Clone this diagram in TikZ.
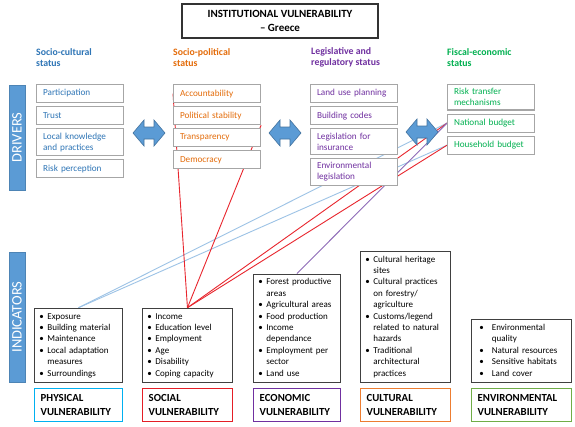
\documentclass[tikz,border=0pt]{standalone}
\usepackage{fontspec}
\setmainfont{Carlito}
\usetikzlibrary{positioning,backgrounds}

\definecolor{scblue}{HTML}{2E75B6}
\definecolor{sporange}{HTML}{E46C0A}
\definecolor{lgpurple}{HTML}{7030A0}
\definecolor{fegreen}{HTML}{00B050}
\definecolor{boxgray}{HTML}{A6A6A6}
\definecolor{barblue}{HTML}{5B9BD5}
\definecolor{lineblue}{HTML}{9DC3E6}
\definecolor{linered}{HTML}{E8262E}
\definecolor{linepurple}{HTML}{8E6BB8}
\definecolor{physcyan}{HTML}{00B0F0}
\definecolor{socred}{HTML}{E41E26}
\definecolor{culorange}{HTML}{ED7D31}
\definecolor{envgreen}{HTML}{70AD47}

\newcommand\bul{\textbullet}

\begin{document}
\begin{tikzpicture}[
  x=1pt, y=-1pt,
  node distance = 3pt,
  drv/.style  = {draw=boxgray, line width=1.1pt, fill=white, text width=74pt,
                 inner xsep=6.5pt, inner ysep=4pt, minimum height=18pt,
                 align=left, font=\fontsize{9.2}{11}\selectfont},
  hdr/.style  = {anchor=west, align=left, inner sep=0pt,
                 font=\fontsize{9.8}{11}\selectfont\bfseries},
  ind/.style  = {draw=black!75, line width=0.9pt, fill=white, anchor=south west,
                 inner xsep=5pt, inner ysep=3pt, align=left,
                 font=\fontsize{9}{11.4}\selectfont},
  vul/.style  = {draw, line width=1.4pt, fill=white, anchor=north west,
                 minimum height=33pt, inner xsep=6pt, align=left,
                 font=\fontsize{10.8}{13.5}\selectfont\bfseries},
  bar/.style  = {fill=barblue, draw=barblue!85!black, rotate=90, minimum height=16pt,
                 inner sep=0pt, text=white, font=\fontsize{14.5}{14.5}\selectfont},
  link/.style = {line width=0.9pt},
  lrarrow/.pic = {\path[fill=barblue, draw=barblue!75!black, line width=0.6pt]
                   (-16,0) -- (-5,-13) -- (-5,-6) -- (5,-6) -- (5,-13) -- (16,0)
                   -- (5,13) -- (5,6) -- (-5,6) -- (-5,13) -- cycle;}
]
  \useasboundingbox (0,0) rectangle (575,426);

  % title
  \node[draw=black!80, line width=1.3pt, minimum width=196pt, minimum height=34pt,
        align=center, font=\fontsize{11}{14}\selectfont\bfseries]
        (title) at (280,21) {INSTITUTIONAL VULNERABILITY\\– Greece};

  % side bars
  \node[bar, minimum width=105pt] (drivers) at (17,137.5) {DRIVERS};
  \node[bar, minimum width=130pt] (indic)   at (17,317)   {INDICATORS};

  % column headers
  \node[hdr, text=scblue]   (hsc) at (36,57.5)  {Socio-cultural\\status};
  \node[hdr, text=sporange] (hsp) at (173,57.5) {Socio-political\\status};
  \node[hdr, text=lgpurple] (hlg) at (311,57.5) {Legislative and\\regulatory status};
  \node[hdr, text=fegreen]  (hfe) at (447,57.5) {Fiscal-economic\\status};

  % drivers
  \node[drv, text=scblue, anchor=north west] (part) at (36,84) {Participation};
  \node[drv, text=scblue, below=of part]  (trust) {Trust};
  \node[drv, text=scblue, below=of trust] (lkp)   {Local knowledge\\and practices};
  \node[drv, text=scblue, below=of lkp]   (risk)  {Risk perception};

  \node[drv, text=sporange, anchor=north west] (acc) at (173,84) {Accountability};
  \node[drv, text=sporange, below=of acc] (pol)  {Political stability};
  \node[drv, text=sporange, below=of pol] (tra)  {Transparency};
  \node[drv, text=sporange, below=of tra] (dem)  {Democracy};

  \node[drv, text=lgpurple, anchor=north west] (lup) at (310,84) {Land use planning};
  \node[drv, text=lgpurple, below=of lup] (bcod) {Building codes};
  \node[drv, text=lgpurple, below=of bcod] (lins) {Legislation for\\insurance};
  \node[drv, text=lgpurple, below=of lins] (envl) {Environmental\\legislation};

  \node[drv, text=fegreen, anchor=north west] (rtm) at (447,84) {Risk transfer\\mechanisms};
  \node[drv, text=fegreen, below=of rtm]  (natb) {National budget};
  \node[drv, text=fegreen, below=of natb] (hhb)  {Household budget};

  % indicators
  \node[ind, text width=78pt] (phys) at (34,383) {%
    \begin{tabular}{@{}l@{\hspace{3.5pt}}l@{}}
      \bul & Exposure\\ \bul & Building material\\ \bul & Maintenance\\
      \bul & Local adaptation\\ & measures\\ \bul & Surroundings
    \end{tabular}};
  \node[ind, text width=80pt] (soc) at (142,383) {%
    \begin{tabular}{@{}l@{\hspace{3.5pt}}l@{}}
      \bul & Income\\ \bul & Education level\\ \bul & Employment\\
      \bul & Age\\ \bul & Disability\\ \bul & Coping capacity
    \end{tabular}};
  \node[ind, text width=77pt] (eco) at (253,383) {%
    \begin{tabular}{@{}l@{\hspace{3.5pt}}l@{}}
      \bul & Forest productive\\ & areas\\ \bul & Agricultural areas\\
      \bul & Food production\\ \bul & Income\\ & dependance\\
      \bul & Employment per\\ & sector\\ \bul & Land use
    \end{tabular}};
  \node[ind, text width=80pt] (cul) at (360,383) {%
    \begin{tabular}{@{}l@{\hspace{3.5pt}}l@{}}
      \bul & Cultural heritage\\ & sites\\ \bul & Cultural practices\\
      & on forestry/\\ & agriculture\\ \bul & Customs/legend\\
      & related to natural\\ & hazards\\ \bul & Traditional\\
      & architectural\\ & practices
    \end{tabular}};
  \node[ind, text width=84pt, inner xsep=8pt] (envi) at (471,383) {%
    \begin{tabular}{@{}l@{\hspace{8pt}}l@{}}
      \bul & Environmental\\ & quality\\ \bul & Natural resources\\
      \bul & Sensitive habitats\\ \bul & Land cover
    \end{tabular}};

  % vulnerability labels
  \node[vul, draw=physcyan,   text width=76pt] (vphys) at (34,388)  {PHYSICAL\\VULNERABILITY};
  \node[vul, draw=socred,     text width=78pt] (vsoc)  at (142,388) {SOCIAL\\VULNERABILITY};
  \node[vul, draw=lgpurple,   text width=75pt] (veco)  at (253,388) {ECONOMIC\\VULNERABILITY};
  \node[vul, draw=culorange,  text width=78pt] (vcul)  at (360,388) {CULTURAL\\VULNERABILITY};
  \node[vul, draw=envgreen,   text width=88pt] (venv)  at (471,388) {ENVIRONMENTAL\\VULNERABILITY};

  % double arrows between driver columns
  \pic at (149,133) {lrarrow};
  \pic at (285,133) {lrarrow};
  \pic at (422,132) {lrarrow};

  % links
  \begin{scope}[on background layer]
    \fill[white] (0,0) rectangle (575,426);
    \foreach \b in {natb,hhb}
      \draw[link, lineblue] (phys.north) -- (\b.west);
    \draw[link, linered] (soc.north) -- (acc.west);
    \draw[link, linered] (soc.north) -- (pol.south east);
    \foreach \b in {natb,hhb}
      \draw[link, linered] (soc.north) -- (\b.west);
    \draw[link, linepurple] (eco.north) -- (natb.west);
  \end{scope}
\end{tikzpicture}
\end{document}
